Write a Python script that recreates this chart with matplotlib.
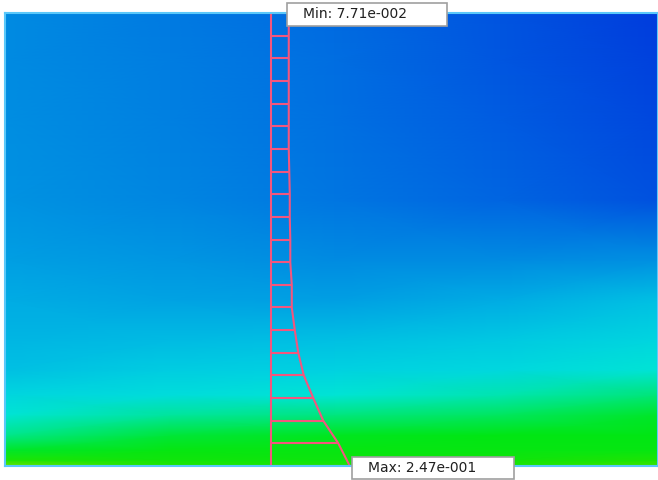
import numpy as np
import matplotlib
matplotlib.use('Agg')
import matplotlib.pyplot as plt
from matplotlib.colors import LinearSegmentedColormap
from matplotlib.patches import Rectangle

# contour field, sampled on a coarse grid (x, height fractions of the domain)
grid_x = [0.0, 0.253, 0.505, 0.758, 1.0]
grid_y = [0.0, 0.013, 0.035, 0.068, 0.113, 0.157, 0.212, 0.278, 0.366, 0.455, 0.587, 0.764, 0.896, 1.0]
field = [
    [0.98, 0.94, 0.93, 0.93, 0.96],
    [0.93, 0.91, 0.90, 0.91, 0.93],
    [0.86, 0.89, 0.89, 0.89, 0.89],
    [0.78, 0.85, 0.87, 0.88, 0.88],
    [0.70, 0.76, 0.79, 0.82, 0.86],
    [0.62, 0.66, 0.70, 0.74, 0.80],
    [0.52, 0.58, 0.60, 0.63, 0.70],
    [0.48, 0.50, 0.52, 0.56, 0.62],
    [0.44, 0.40, 0.38, 0.44, 0.52],
    [0.38, 0.34, 0.30, 0.30, 0.32],
    [0.33, 0.28, 0.23, 0.17, 0.10],
    [0.31, 0.26, 0.21, 0.14, 0.06],
    [0.30, 0.25, 0.20, 0.12, 0.04],
    [0.30, 0.24, 0.19, 0.11, 0.02],
]

# velocity profile along the vertical line
profile_x = 0.407
profile_y = [0.0, 0.05, 0.1, 0.15, 0.2, 0.25, 0.3, 0.35, 0.4, 0.45, 0.5,
             0.55, 0.6, 0.65, 0.7, 0.75, 0.8, 0.85, 0.9, 0.95, 1.0]
profile_u = [0.2470, 0.2150, 0.1732, 0.1453, 0.1189, 0.1036, 0.0938, 0.0855, 0.0855, 0.0813, 0.0813,
             0.0799, 0.0799, 0.0785, 0.0771, 0.0771, 0.0771, 0.0771, 0.0771, 0.0771, 0.0771]
u_ref = 0.027
u_scale = 0.55

min_label = "Min: 7.71e-002"
max_label = "Max: 2.47e-001"

stops = [(0.00, (0, 55, 220)), (0.15, (0, 95, 225)), (0.30, (0, 140, 225)),
         (0.45, (0, 175, 228)), (0.60, (0, 210, 225)), (0.70, (0, 228, 215)),
         (0.80, (0, 230, 120)), (0.88, (0, 230, 20)), (0.95, (40, 228, 0)),
         (1.00, (150, 225, 0))]
cmap = LinearSegmentedColormap.from_list('fluent', [(p, tuple(c / 255 for c in rgb)) for p, rgb in stops])

W, H = 658, 480
fig = plt.figure(figsize=(W / 100, H / 100), dpi=100)
ax = fig.add_axes([5 / W, 14 / H, 653 / W, 453 / H])

X, Y = np.meshgrid(grid_x, grid_y)
ax.pcolormesh(X, Y, np.array(field), cmap=cmap, vmin=0, vmax=1, shading='gouraud')

py = np.array(profile_y)
px = profile_x + (np.array(profile_u) - u_ref) * u_scale
col, lw = '#f3567e', 1.5
ax.plot([profile_x, profile_x], [py[0], py[-1]], color=col, lw=lw, solid_capstyle='butt')
ax.plot(px, py, color=col, lw=lw)
for xi, yi in zip(px, py):
    ax.plot([profile_x, xi], [yi, yi], color=col, lw=lw, solid_capstyle='butt')

ax.set_xlim(0, 1)
ax.set_ylim(0, 1)
ax.set_xticks([])
ax.set_yticks([])
for s in ax.spines.values():
    s.set_color('#5ac8fa')
    s.set_linewidth(1.5)

# label boxes (figure pixel coordinates)
def label(x0, y0, w, h, txt):
    fig.patches.append(Rectangle((x0 / W, 1 - (y0 + h) / H), w / W, h / H, transform=fig.transFigure,
                                 facecolor='white', edgecolor='#a0a0a0', lw=1.2))
    fig.text((x0 + 16) / W, 1 - (y0 + h / 2) / H, txt, ha='left', va='center', fontsize=10,
             color='#202020', family='DejaVu Sans')

label(287, 3, 160, 23, min_label)
label(352, 457, 162, 22, max_label)

fig.savefig('out.png', dpi=100, facecolor='white')
